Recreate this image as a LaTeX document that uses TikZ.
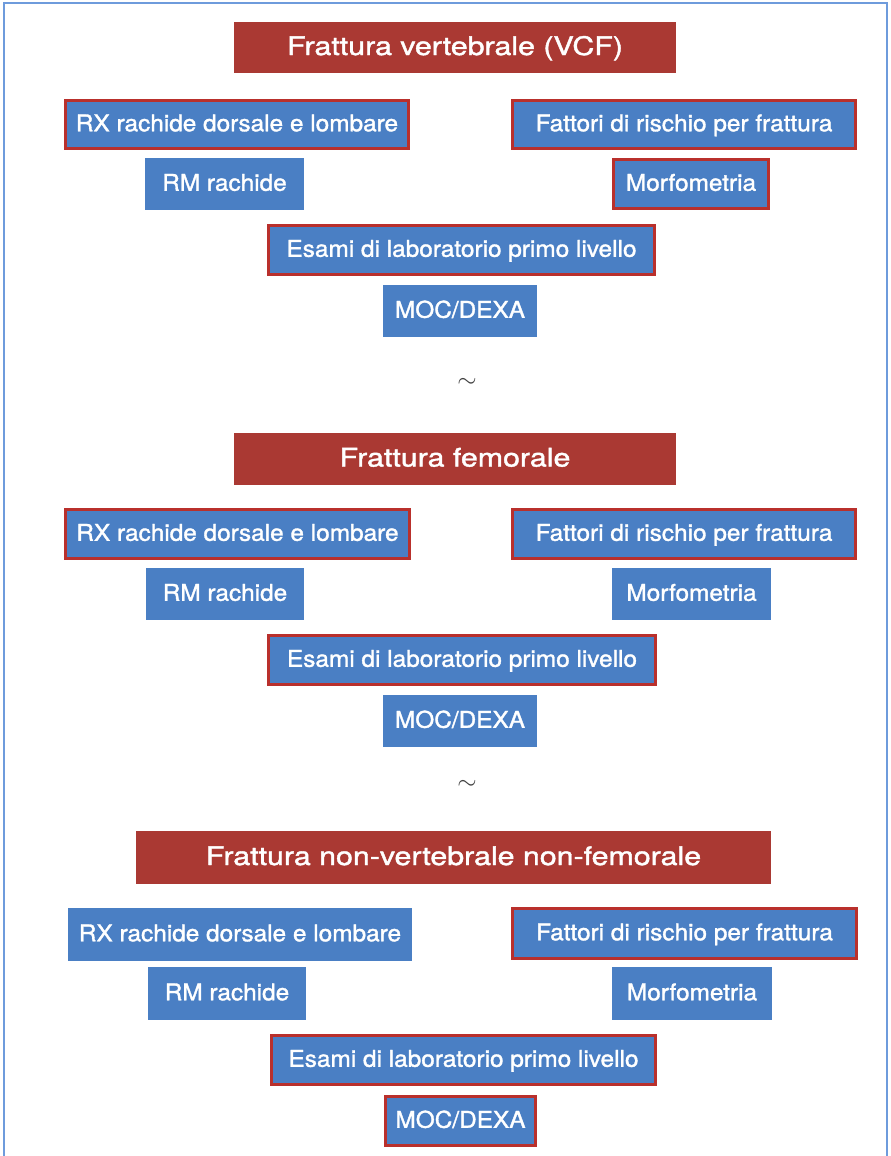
\documentclass[tikz,border=0pt]{standalone}
\usepackage{fontspec}
\usepackage{graphicx}
\setmainfont{TeX Gyre Heros}
\newfontfamily\medfont{TeX Gyre Heros}[FakeBold=1.4]
\definecolor{titlered}{RGB}{170,57,51}
\definecolor{boxblue}{RGB}{74,127,196}
\definecolor{rimred}{RGB}{185,48,44}
\definecolor{framblue}{RGB}{110,155,220}
\tikzset{
  titlebox/.style={fill=titlered, text=white, inner sep=0pt, outer sep=0pt,
    font=\medfont\fontsize{25.5}{30}\selectfont, text height=18pt, text depth=0pt},
  bluebox/.style={fill=boxblue, text=white, inner sep=0pt, outer sep=0pt,
    font=\medfont\fontsize{23}{28}\selectfont, text height=16.5pt, text depth=0pt},
  redrim/.style={draw=rimred, line width=3pt},
  tildemark/.style={text=black!75, inner sep=0pt, font=\fontsize{28}{30}\selectfont},
  frameline/.style={draw=framblue, line width=1.6pt},
}
% name, style, left, top, right, bottom, text
\newcommand\tbox[7]{\node[#2, minimum width={#5-#3}, minimum height={#6-#4}] (#1) at ({(#3+#5)/2},{(#4+#6)/2}) {#7};}
\newcommand\rbox[7]{\node[#2, redrim, minimum width={#5-#3-3}, minimum height={#6-#4-3}] (#1) at ({(#3+#5)/2},{(#4+#6)/2}) {#7};}
\newcommand\ttl[1]{\raisebox{1.5pt}{\scalebox{1.19}[1]{#1}}}
\newcommand\btx[1]{\raisebox{1.5pt}{\scalebox{1.06}[1]{#1}}}
\begin{document}
\begin{tikzpicture}[x=1pt,y=-1pt]
\useasboundingbox (0,0) rectangle (891,1156);
\draw[frameline] (4,1160) -- (4,3) -- (887,3) -- (887,1160);
% Section 1
\tbox{t1}{titlebox}{234}{22}{676}{73}{\ttl{Frattura vertebrale (VCF)}}
\rbox{rx1}{bluebox}{64}{99}{410}{150}{\btx{RX rachide dorsale e lombare}}
\rbox{fr1}{bluebox}{511}{99}{857}{150}{\btx{Fattori di rischio per frattura}}
\tbox{rm1}{bluebox}{145}{158}{304}{210}{\btx{RM rachide}}
\rbox{mo1}{bluebox}{612}{158}{770}{210}{\btx{Morfometria}}
\rbox{es1}{bluebox}{267}{224}{656}{276}{\btx{Esami di laboratorio primo livello}}
\tbox{moc1}{bluebox}{383}{285}{537}{337}{\btx{MOC/DEXA}}
\node[tildemark] (sep1) at (467,383) {$\sim$};
% Section 2
\tbox{t2}{titlebox}{234}{433}{676}{485}{\ttl{Frattura femorale}}
\rbox{rx2}{bluebox}{64}{508}{411}{560}{\btx{RX rachide dorsale e lombare}}
\rbox{fr2}{bluebox}{511}{508}{857}{560}{\btx{Fattori di rischio per frattura}}
\tbox{rm2}{bluebox}{146}{568}{304}{620}{\btx{RM rachide}}
\tbox{mo2}{bluebox}{612}{568}{771}{620}{\btx{Morfometria}}
\rbox{es2}{bluebox}{267}{634}{657}{686}{\btx{Esami di laboratorio primo livello}}
\tbox{moc2}{bluebox}{383}{695}{537}{747}{\btx{MOC/DEXA}}
\node[tildemark] (sep2) at (467,785) {$\sim$};
% Section 3
\tbox{t3}{titlebox}{136}{831}{771}{884}{\ttl{Frattura non-vertebrale non-femorale}}
\tbox{rx3}{bluebox}{68}{908}{412}{961}{\btx{RX rachide dorsale e lombare}}
\rbox{fr3}{bluebox}{511}{907}{858}{960}{\btx{Fattori di rischio per frattura}}
\tbox{rm3}{bluebox}{148}{967}{306}{1020}{\btx{RM rachide}}
\tbox{mo3}{bluebox}{612}{967}{772}{1020}{\btx{Morfometria}}
\rbox{es3}{bluebox}{270}{1034}{657}{1086}{\btx{Esami di laboratorio primo livello}}
\rbox{moc3}{bluebox}{384}{1095}{537}{1147}{\btx{MOC/DEXA}}
\end{tikzpicture}
\end{document}
